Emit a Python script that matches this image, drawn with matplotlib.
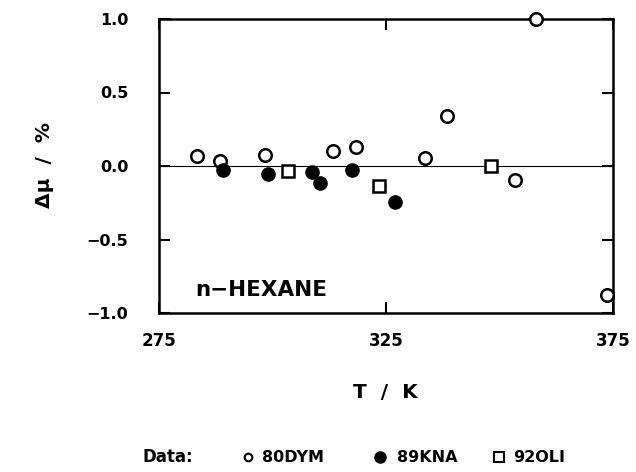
import matplotlib
matplotlib.use("Agg")
import matplotlib.pyplot as plt

# 80DYM (open circles)
t_dym = [283.4, 288.5, 298.4, 313.3, 318.5, 333.5, 338.4, 353.5, 358.1, 373.6]
d_dym = [0.07, 0.036, 0.073, 0.104, 0.127, 0.054, 0.34, -0.097, 1.0, -0.88]
# 89KNA (filled circles)
t_kna = [289.0, 299.1, 308.7, 310.5, 317.5, 326.9]
d_kna = [-0.027, -0.054, -0.043, -0.118, -0.03, -0.243]
# 92OLI (open squares)
t_oli = [303.4, 323.4, 348.2]
d_oli = [-0.032, -0.138, 0.0]

xticks = [275, 325, 375]
yticks = [-1.0, -0.5, 0.0, 0.5, 1.0]
ytick_labels = ["\u22121.0", "\u22120.5", "0.0", "0.5", "1.0"]

plt.rcParams['font.family'] = ['DejaVu Sans']
plt.rcParams['font.weight'] = 'bold'

fig = plt.figure(figsize=(6.36, 4.72), dpi=100)
ax = fig.add_axes([159/636, 1 - 313/472, (613-159)/636, (313-19)/472])

ax.axhline(0, color='black', lw=0.8, zorder=1)
ax.plot(t_dym, d_dym, 'o', ms=9, mfc='white', mec='black', mew=1.8, clip_on=False, zorder=3)
ax.plot(t_kna, d_kna, 'o', ms=9.5, mfc='black', mec='black', mew=1.0, clip_on=False, zorder=3)
ax.plot(t_oli, d_oli, 's', ms=8.5, mfc='white', mec='black', mew=1.8, clip_on=False, zorder=3)

ax.set_xlim(275, 375)
ax.set_ylim(-1.0, 1.0)
ax.set_xticks(xticks)
ax.set_xticklabels([str(v) for v in xticks], fontsize=12, fontweight='bold')
ax.set_yticks(yticks)
ax.set_yticklabels(ytick_labels, fontsize=11.5, fontweight='bold')
ax.tick_params(axis='both', direction='in', length=8, width=1.5, top=True, right=True)
ax.tick_params(axis='y', pad=22)
ax.tick_params(axis='x', pad=14)
for s in ax.spines.values():
    s.set_linewidth(1.8)

ax.text(0.08, 0.078, "n\u2212HEXANE", transform=ax.transAxes, fontsize=15.5,
        fontweight='bold', ha='left', va='center')

fig.text(385/636, 1 - 393/472, "T  /  K", fontsize=14.5, fontweight='bold', ha='center', va='center')
fig.text(45/636, 1 - 165/472, "\u0394\u03bc  /  %", fontsize=14.5, fontweight='bold',
         ha='center', va='center', rotation=90)

ly = 1 - 457/472
fig.text(142/636, ly, "Data:", fontsize=12, fontweight='bold', ha='left', va='center')
fig.text(262/636, ly, "80DYM", fontsize=11.5, fontweight='bold', ha='left', va='center')
fig.text(397/636, ly, "89KNA", fontsize=11.5, fontweight='bold', ha='left', va='center')
fig.text(513/636, ly, "92OLI", fontsize=11.5, fontweight='bold', ha='left', va='center')
fig.lines.append(matplotlib.lines.Line2D([248/636], [ly], marker='o', ms=5.5, mfc='white', mec='black',
                                          mew=1.5, transform=fig.transFigure))
fig.lines.append(matplotlib.lines.Line2D([380/636], [ly], marker='o', ms=8, mfc='black', mec='black',
                                          transform=fig.transFigure))
fig.lines.append(matplotlib.lines.Line2D([499/636], [ly], marker='s', ms=7, mfc='white', mec='black',
                                          mew=1.5, transform=fig.transFigure))

fig.savefig("out.png", dpi=100)
